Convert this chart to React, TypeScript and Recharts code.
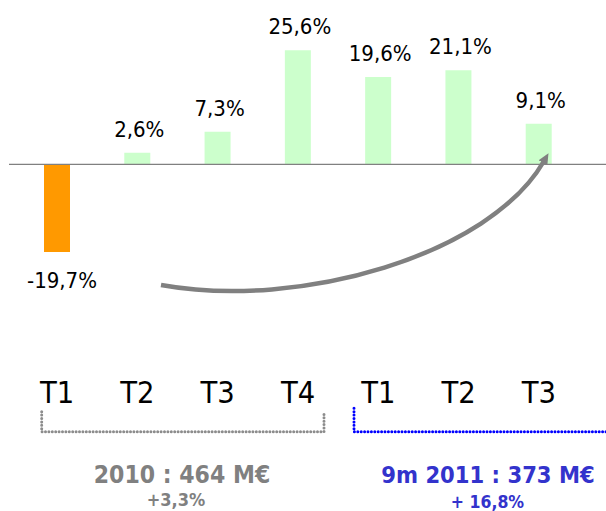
import React from 'react';
import { BarChart, Bar, XAxis, YAxis, Cell, LabelList, ReferenceLine } from 'recharts';

// ---- data ----
const quarters = ['T1', 'T2', 'T3', 'T4', 'T1', 'T2', 'T3'];
const growth = [-19.7, 2.6, 7.3, 25.6, 19.6, 21.1, 9.1];
const summaryTitles = ['2010 : 464 M€', '9m 2011 : 373 M€'];
const summaryGrowth = ['+3,3%', '+ 16,8%'];

const data = quarters.map((q, i) => ({ q, v: growth[i] }));

const LABEL_FONT = "'DejaVu Sans Condensed', 'DejaVu Sans', sans-serif";
const TICK_FONT = "'DejaVu Sans Condensed', 'DejaVu Sans', sans-serif";

const fmt = (v: number) => v.toFixed(1).replace('.', ',') + '%';

const renderLabel = (props: any) => {
  const { x, y, width, height, value } = props;
  const top = Math.min(y, y + height);
  const bottom = Math.max(y, y + height);
  const neg = value < 0;
  return (
    <text
      x={x + width / 2 + (neg ? 5 : 2)}
      y={neg ? bottom + 35.6 : top - 16}
      textAnchor="middle"
      fontFamily={LABEL_FONT}
      fontSize={22}
      fill="#000"
    >
      {fmt(value)}
    </text>
  );
};

export default function App() {
  return (
    <div style={{ position: 'absolute', left: 0, top: 0, width: 606, height: 511, background: '#fff' }}>
      <BarChart
        width={606}
        height={511}
        data={data}
        margin={{ top: 30.7, right: 0, left: 9, bottom: 107.4 }}
      >
        <XAxis
          dataKey="q"
          height={30}
          axisLine={false}
          tickLine={false}
          interval={0}
          padding={{ left: 8, right: 27 }}
          tickMargin={2}
          tick={{ fontSize: 30.5, fill: '#000', fontFamily: TICK_FONT }}
        />
        <YAxis hide domain={[-47, 30]} allowDataOverflow />
        <ReferenceLine y={0} stroke="#808080" strokeWidth={1.2} />
        <Bar dataKey="v" barSize={26} isAnimationActive={false}>
          {data.map((d, i) => (
            <Cell key={i} fill={d.v < 0 ? '#FF9900' : '#CCFFCC'} />
          ))}
          <LabelList dataKey="v" content={renderLabel} />
        </Bar>
      </BarChart>
      <svg
        width={606}
        height={511}
        style={{ position: 'absolute', left: 0, top: 0, pointerEvents: 'none' }}
      >
        <defs>
          <marker id="ah" markerUnits="userSpaceOnUse" markerWidth={12} markerHeight={12} refX={2} refY={5} orient="auto">
            <path d="M0,0 L11,5 L0,10 z" fill="#808080" />
          </marker>
        </defs>
        <path
          d="M161,285 C300,310 490,255 544,161"
          fill="none"
          stroke="#808080"
          strokeWidth={4.5}
          markerEnd="url(#ah)"
        />
        <path
          d="M41.7,411.7 L41.7,431.7 L324,431.7 L324,413"
          fill="none"
          stroke="#8C8C8C"
          strokeWidth={3}
          strokeDasharray="0 3.4"
          strokeLinecap="round"
        />
        <path
          d="M354,408.3 L354,431.7 L606,431.7"
          fill="none"
          stroke="#0000FF"
          strokeWidth={3}
          strokeDasharray="0 3.4"
          strokeLinecap="round"
        />
        <text x={182} y={483.3} textAnchor="middle" fontFamily={LABEL_FONT} fontWeight="bold" fontSize={24.5} fill="#808080">
          {summaryTitles[0]}
        </text>
        <text x={176} y={506} textAnchor="middle" fontFamily={LABEL_FONT} fontWeight="bold" fontSize={18} fill="#808080">
          {summaryGrowth[0]}
        </text>
        <text x={488} y={483.3} textAnchor="middle" fontFamily={LABEL_FONT} fontWeight="bold" fontSize={23.5} fill="#3333CC">
          {summaryTitles[1]}
        </text>
        <text x={487.5} y={508.3} textAnchor="middle" fontFamily={LABEL_FONT} fontWeight="bold" fontSize={17.5} fill="#3333CC">
          {summaryGrowth[1]}
        </text>
      </svg>
    </div>
  );
}
